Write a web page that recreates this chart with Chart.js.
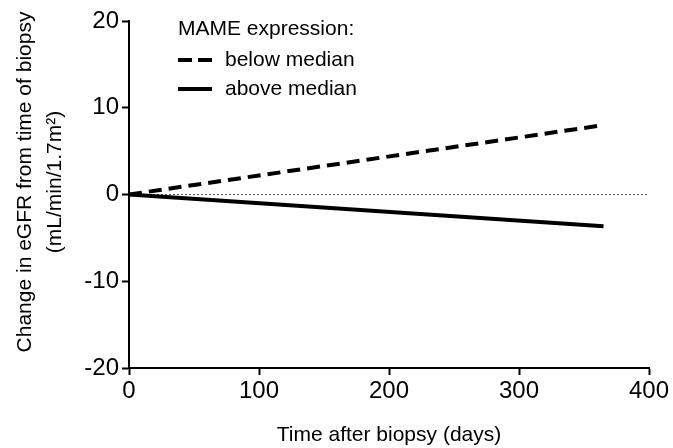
<!DOCTYPE html>
<html>
<head>
<meta charset="utf-8">
<script src="https://cdn.jsdelivr.net/npm/chart.js@4.4.0/dist/chart.umd.min.js"></script>
<style>
  html, body { margin: 0; padding: 0; background: #fff; }
  #wrap { width: 673px; height: 448px; }
</style>
</head>
<body>
<div id="wrap"><canvas id="egfrChart" width="673" height="448"></canvas></div>
<script>
  // values
  const days = [0, 365];
  const belowMedian = [0, 8.0];
  const aboveMedian = [0, -3.65];
  const zeroDays = [0, 400];
  const zeroValues = [0, 0];
  const xTicks = [0, 100, 200, 300, 400];
  const yTicks = [-20, -10, 0, 10, 20];
  const legendTitle = "MAME expression:";
  const seriesNames = ["below median", "above median"];
  const yTitleLines = ["Change in eGFR from time of biopsy", "(mL/min/1.7m\u00b2)"];

  const FONT = "'Liberation Sans', Arial, sans-serif";

  const toPoints = (xs, ys) => xs.map((x, i) => ({ x: x, y: ys[i] }));

  // legend inside the plot and the two-line y title, like the original figure
  const extraText = {
    id: "extraText",
    afterDraw(chart) {
      const ctx = chart.ctx;
      ctx.save();
      ctx.fillStyle = "#000";
      ctx.textBaseline = "middle";
      ctx.font = "21px " + FONT;
      ctx.fillText(legendTitle, 178, 29);
      const rows = [60, 89];
      const dashes = [[14, 6], []];
      seriesNames.forEach((name, i) => {
        ctx.beginPath();
        ctx.lineWidth = 4;
        ctx.strokeStyle = chart.data.datasets[i].borderColor;
        ctx.setLineDash(dashes[i]);
        ctx.moveTo(178, rows[i]);
        ctx.lineTo(212, rows[i]);
        ctx.stroke();
        ctx.setLineDash([]);
        ctx.fillText(name, 225, rows[i]);
      });

      // y axis title, rotated
      ctx.font = "21px " + FONT;
      ctx.textAlign = "center";
      const cols = [25, 55];
      yTitleLines.forEach((line, i) => {
        ctx.save();
        ctx.translate(cols[i], 182);
        ctx.rotate(-Math.PI / 2);
        ctx.fillText(line, 0, 0);
        ctx.restore();
      });
      ctx.restore();
    },
  };

  const ctx = document.getElementById("egfrChart").getContext("2d");
  new Chart(ctx, {
    type: "scatter",
    data: {
      datasets: [
        {
          label: seriesNames[0],
          data: toPoints(days, belowMedian),
          showLine: true,
          borderColor: "#000",
          borderWidth: 4,
          borderDash: [13, 7],
          pointRadius: 0,
        },
        {
          label: seriesNames[1],
          data: toPoints(days, aboveMedian),
          showLine: true,
          borderColor: "#000",
          borderWidth: 4,
          pointRadius: 0,
        },
        {
          label: "zero",
          data: toPoints(zeroDays, zeroValues),
          showLine: true,
          borderColor: "#555",
          borderWidth: 1,
          borderDash: [2, 2],
          pointRadius: 0,
        },
      ],
    },
    options: {
      responsive: false,
      animation: false,
      layout: { padding: { top: 21, right: 24, left: 0, bottom: 0 } },
      plugins: {
        legend: { display: false },
        tooltip: { enabled: false },
      },
      scales: {
        x: {
          type: "linear",
          min: 0,
          max: 400,
          afterBuildTicks: (scale) => { scale.ticks = xTicks.map((v) => ({ value: v })); },
          afterFit: (scale) => { scale.height = 80; },
          grid: { display: true, drawOnChartArea: false, drawTicks: true, tickLength: 7, tickColor: "#000", tickWidth: 2 },
          border: { display: true, color: "#000", width: 2 },
          ticks: { color: "#000", font: { family: FONT, size: 24 }, padding: 2, maxRotation: 0 },
          title: {
            display: true,
            text: "Time after biopsy (days)",
            color: "#000",
            font: { family: FONT, size: 21 },
            padding: { top: 0, bottom: 0 },
          },
        },
        y: {
          type: "linear",
          min: -20,
          max: 20,
          afterBuildTicks: (scale) => { scale.ticks = yTicks.map((v) => ({ value: v })); },
          afterFit: (scale) => { scale.width = 129; },
          grid: { display: true, drawOnChartArea: false, drawTicks: true, tickLength: 7, tickColor: "#000", tickWidth: 2 },
          border: { display: true, color: "#000", width: 2 },
          ticks: { color: "#000", font: { family: FONT, size: 24 }, padding: 3 },
        },
      },
    },
    plugins: [extraText],
  });
</script>
</body>
</html>
